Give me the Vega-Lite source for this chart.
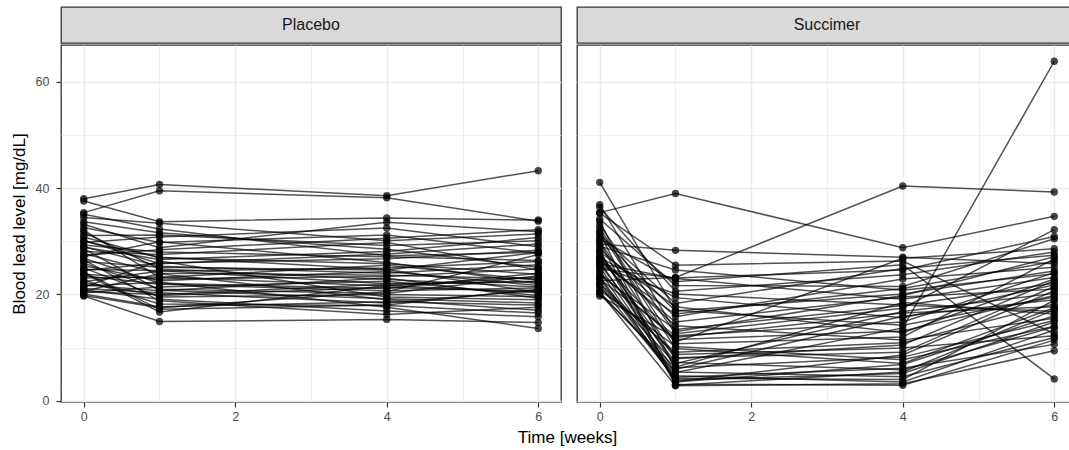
{
  "$schema": "https://vega.github.io/schema/vega-lite/v6.json",
  "padding": {"left": 9, "top": 6, "right": 0, "bottom": 0},
  "background": "white",
  "config": {
    "font": "Liberation Sans",
    "view": {"stroke": "#333333", "strokeWidth": 1.3},
    "concat": {"spacing": 14}
  },
  "title": {"text": "Time [weeks]", "orient": "bottom", "anchor": "middle", "fontSize": 17, "fontWeight": "normal", "color": "black", "offset": 6, "dx": 24, "font": "Liberation Sans"},
  "datasets": {
    "lead": [
      {"id":1,"g":"Placebo","w":0,"v":30.8},{"id":1,"g":"Placebo","w":1,"v":26.9},{"id":1,"g":"Placebo","w":4,"v":25.8},{"id":1,"g":"Placebo","w":6,"v":23.8},
      {"id":2,"g":"Placebo","w":0,"v":24.7},{"id":2,"g":"Placebo","w":1,"v":24.5},{"id":2,"g":"Placebo","w":4,"v":22.0},{"id":2,"g":"Placebo","w":6,"v":22.5},
      {"id":3,"g":"Placebo","w":0,"v":28.6},{"id":3,"g":"Placebo","w":1,"v":20.8},{"id":3,"g":"Placebo","w":4,"v":19.2},{"id":3,"g":"Placebo","w":6,"v":18.4},
      {"id":4,"g":"Placebo","w":0,"v":33.7},{"id":4,"g":"Placebo","w":1,"v":31.6},{"id":4,"g":"Placebo","w":4,"v":28.5},{"id":4,"g":"Placebo","w":6,"v":25.1},
      {"id":5,"g":"Placebo","w":0,"v":19.7},{"id":5,"g":"Placebo","w":1,"v":14.9},{"id":5,"g":"Placebo","w":4,"v":15.3},{"id":5,"g":"Placebo","w":6,"v":14.7},
      {"id":6,"g":"Placebo","w":0,"v":31.1},{"id":6,"g":"Placebo","w":1,"v":31.2},{"id":6,"g":"Placebo","w":4,"v":29.2},{"id":6,"g":"Placebo","w":6,"v":30.1},
      {"id":7,"g":"Placebo","w":0,"v":19.8},{"id":7,"g":"Placebo","w":1,"v":17.5},{"id":7,"g":"Placebo","w":4,"v":20.5},{"id":7,"g":"Placebo","w":6,"v":27.5},
      {"id":8,"g":"Placebo","w":0,"v":21.4},{"id":8,"g":"Placebo","w":1,"v":26.3},{"id":8,"g":"Placebo","w":4,"v":19.5},{"id":8,"g":"Placebo","w":6,"v":19.0},
      {"id":9,"g":"Placebo","w":0,"v":21.1},{"id":9,"g":"Placebo","w":1,"v":20.3},{"id":9,"g":"Placebo","w":4,"v":18.4},{"id":9,"g":"Placebo","w":6,"v":20.8},
      {"id":10,"g":"Placebo","w":0,"v":20.6},{"id":10,"g":"Placebo","w":1,"v":23.9},{"id":10,"g":"Placebo","w":4,"v":19.0},{"id":10,"g":"Placebo","w":6,"v":17.0},
      {"id":11,"g":"Placebo","w":0,"v":24.0},{"id":11,"g":"Placebo","w":1,"v":16.7},{"id":11,"g":"Placebo","w":4,"v":21.7},{"id":11,"g":"Placebo","w":6,"v":20.3},
      {"id":12,"g":"Placebo","w":0,"v":37.6},{"id":12,"g":"Placebo","w":1,"v":33.7},{"id":12,"g":"Placebo","w":4,"v":34.4},{"id":12,"g":"Placebo","w":6,"v":34.0},
      {"id":13,"g":"Placebo","w":0,"v":38.0},{"id":13,"g":"Placebo","w":1,"v":40.7},{"id":13,"g":"Placebo","w":4,"v":38.6},{"id":13,"g":"Placebo","w":6,"v":43.3},
      {"id":14,"g":"Placebo","w":0,"v":35.4},{"id":14,"g":"Placebo","w":1,"v":39.5},{"id":14,"g":"Placebo","w":4,"v":38.2},{"id":14,"g":"Placebo","w":6,"v":33.8},
      {"id":15,"g":"Placebo","w":0,"v":22.2},{"id":15,"g":"Placebo","w":1,"v":19.8},{"id":15,"g":"Placebo","w":4,"v":21.3},{"id":15,"g":"Placebo","w":6,"v":20.6},
      {"id":16,"g":"Placebo","w":0,"v":26.2},{"id":16,"g":"Placebo","w":1,"v":25.1},{"id":16,"g":"Placebo","w":4,"v":24.6},{"id":16,"g":"Placebo","w":6,"v":27.9},
      {"id":17,"g":"Placebo","w":0,"v":29.3},{"id":17,"g":"Placebo","w":1,"v":28.0},{"id":17,"g":"Placebo","w":4,"v":27.1},{"id":17,"g":"Placebo","w":6,"v":26.4},
      {"id":18,"g":"Placebo","w":0,"v":20.3},{"id":18,"g":"Placebo","w":1,"v":21.4},{"id":18,"g":"Placebo","w":4,"v":22.5},{"id":18,"g":"Placebo","w":6,"v":19.8},
      {"id":19,"g":"Placebo","w":0,"v":25.4},{"id":19,"g":"Placebo","w":1,"v":22.6},{"id":19,"g":"Placebo","w":4,"v":24.3},{"id":19,"g":"Placebo","w":6,"v":21.7},
      {"id":20,"g":"Placebo","w":0,"v":27.7},{"id":20,"g":"Placebo","w":1,"v":24.0},{"id":20,"g":"Placebo","w":4,"v":23.6},{"id":20,"g":"Placebo","w":6,"v":22.9},
      {"id":21,"g":"Placebo","w":0,"v":32.6},{"id":21,"g":"Placebo","w":1,"v":29.8},{"id":21,"g":"Placebo","w":4,"v":31.2},{"id":21,"g":"Placebo","w":6,"v":27.8},
      {"id":22,"g":"Placebo","w":0,"v":23.5},{"id":22,"g":"Placebo","w":1,"v":21.9},{"id":22,"g":"Placebo","w":4,"v":20.7},{"id":22,"g":"Placebo","w":6,"v":21.2},
      {"id":23,"g":"Placebo","w":0,"v":30.2},{"id":23,"g":"Placebo","w":1,"v":25.8},{"id":23,"g":"Placebo","w":4,"v":27.6},{"id":23,"g":"Placebo","w":6,"v":29.5},
      {"id":24,"g":"Placebo","w":0,"v":22.7},{"id":24,"g":"Placebo","w":1,"v":18.2},{"id":24,"g":"Placebo","w":4,"v":17.9},{"id":24,"g":"Placebo","w":6,"v":16.5},
      {"id":25,"g":"Placebo","w":0,"v":34.5},{"id":25,"g":"Placebo","w":1,"v":33.4},{"id":25,"g":"Placebo","w":4,"v":30.1},{"id":25,"g":"Placebo","w":6,"v":31.4},
      {"id":26,"g":"Placebo","w":0,"v":26.8},{"id":26,"g":"Placebo","w":1,"v":22.1},{"id":26,"g":"Placebo","w":4,"v":21.1},{"id":26,"g":"Placebo","w":6,"v":24.0},
      {"id":27,"g":"Placebo","w":0,"v":20.9},{"id":27,"g":"Placebo","w":1,"v":19.1},{"id":27,"g":"Placebo","w":4,"v":16.9},{"id":27,"g":"Placebo","w":6,"v":15.8},
      {"id":28,"g":"Placebo","w":0,"v":28.1},{"id":28,"g":"Placebo","w":1,"v":27.5},{"id":28,"g":"Placebo","w":4,"v":29.8},{"id":28,"g":"Placebo","w":6,"v":24.6},
      {"id":29,"g":"Placebo","w":0,"v":24.5},{"id":29,"g":"Placebo","w":1,"v":25.9},{"id":29,"g":"Placebo","w":4,"v":26.7},{"id":29,"g":"Placebo","w":6,"v":28.3},
      {"id":30,"g":"Placebo","w":0,"v":31.7},{"id":30,"g":"Placebo","w":1,"v":24.8},{"id":30,"g":"Placebo","w":4,"v":22.8},{"id":30,"g":"Placebo","w":6,"v":21.4},
      {"id":31,"g":"Placebo","w":0,"v":21.8},{"id":31,"g":"Placebo","w":1,"v":20.7},{"id":31,"g":"Placebo","w":4,"v":23.1},{"id":31,"g":"Placebo","w":6,"v":19.3},
      {"id":32,"g":"Placebo","w":0,"v":27.1},{"id":32,"g":"Placebo","w":1,"v":29.9},{"id":32,"g":"Placebo","w":4,"v":26.0},{"id":32,"g":"Placebo","w":6,"v":22.0},
      {"id":33,"g":"Placebo","w":0,"v":23.1},{"id":33,"g":"Placebo","w":1,"v":23.3},{"id":33,"g":"Placebo","w":4,"v":21.6},{"id":33,"g":"Placebo","w":6,"v":23.3},
      {"id":34,"g":"Placebo","w":0,"v":33.2},{"id":34,"g":"Placebo","w":1,"v":28.8},{"id":34,"g":"Placebo","w":4,"v":33.6},{"id":34,"g":"Placebo","w":6,"v":31.8},
      {"id":35,"g":"Placebo","w":0,"v":20.1},{"id":35,"g":"Placebo","w":1,"v":17.7},{"id":35,"g":"Placebo","w":4,"v":18.6},{"id":35,"g":"Placebo","w":6,"v":18.0},
      {"id":36,"g":"Placebo","w":0,"v":25.9},{"id":36,"g":"Placebo","w":1,"v":21.0},{"id":36,"g":"Placebo","w":4,"v":20.2},{"id":36,"g":"Placebo","w":6,"v":23.5},
      {"id":37,"g":"Placebo","w":0,"v":29.8},{"id":37,"g":"Placebo","w":1,"v":30.8},{"id":37,"g":"Placebo","w":4,"v":32.5},{"id":37,"g":"Placebo","w":6,"v":29.0},
      {"id":38,"g":"Placebo","w":0,"v":22.4},{"id":38,"g":"Placebo","w":1,"v":24.4},{"id":38,"g":"Placebo","w":4,"v":25.0},{"id":38,"g":"Placebo","w":6,"v":26.2},
      {"id":39,"g":"Placebo","w":0,"v":26.5},{"id":39,"g":"Placebo","w":1,"v":18.8},{"id":39,"g":"Placebo","w":4,"v":16.2},{"id":39,"g":"Placebo","w":6,"v":17.6},
      {"id":40,"g":"Placebo","w":0,"v":35.1},{"id":40,"g":"Placebo","w":1,"v":32.3},{"id":40,"g":"Placebo","w":4,"v":27.3},{"id":40,"g":"Placebo","w":6,"v":27.9},
      {"id":41,"g":"Placebo","w":0,"v":20.5},{"id":41,"g":"Placebo","w":1,"v":20.0},{"id":41,"g":"Placebo","w":4,"v":21.9},{"id":41,"g":"Placebo","w":6,"v":22.4},
      {"id":42,"g":"Placebo","w":0,"v":30.0},{"id":42,"g":"Placebo","w":1,"v":27.0},{"id":42,"g":"Placebo","w":4,"v":24.7},{"id":42,"g":"Placebo","w":6,"v":20.4},
      {"id":43,"g":"Placebo","w":0,"v":23.8},{"id":43,"g":"Placebo","w":1,"v":22.9},{"id":43,"g":"Placebo","w":4,"v":23.4},{"id":43,"g":"Placebo","w":6,"v":24.8},
      {"id":44,"g":"Placebo","w":0,"v":25.0},{"id":44,"g":"Placebo","w":1,"v":19.5},{"id":44,"g":"Placebo","w":4,"v":20.0},{"id":44,"g":"Placebo","w":6,"v":19.6},
      {"id":45,"g":"Placebo","w":0,"v":28.9},{"id":45,"g":"Placebo","w":1,"v":26.6},{"id":45,"g":"Placebo","w":4,"v":28.1},{"id":45,"g":"Placebo","w":6,"v":30.7},
      {"id":46,"g":"Placebo","w":0,"v":32.1},{"id":46,"g":"Placebo","w":1,"v":23.2},{"id":46,"g":"Placebo","w":4,"v":25.5},{"id":46,"g":"Placebo","w":6,"v":22.7},
      {"id":47,"g":"Placebo","w":0,"v":21.6},{"id":47,"g":"Placebo","w":1,"v":22.3},{"id":47,"g":"Placebo","w":4,"v":17.6},{"id":47,"g":"Placebo","w":6,"v":13.6},
      {"id":48,"g":"Placebo","w":0,"v":27.4},{"id":48,"g":"Placebo","w":1,"v":28.4},{"id":48,"g":"Placebo","w":4,"v":30.6},{"id":48,"g":"Placebo","w":6,"v":32.2},
      {"id":49,"g":"Placebo","w":0,"v":24.2},{"id":49,"g":"Placebo","w":1,"v":17.2},{"id":49,"g":"Placebo","w":4,"v":18.0},{"id":49,"g":"Placebo","w":6,"v":21.0},
      {"id":50,"g":"Placebo","w":0,"v":29.0},{"id":50,"g":"Placebo","w":1,"v":25.3},{"id":50,"g":"Placebo","w":4,"v":24.0},{"id":50,"g":"Placebo","w":6,"v":25.6},
      {"id":51,"g":"Succimer","w":0,"v":26.5},{"id":51,"g":"Succimer","w":1,"v":14.8},{"id":51,"g":"Succimer","w":4,"v":19.5},{"id":51,"g":"Succimer","w":6,"v":21.0},
      {"id":52,"g":"Succimer","w":0,"v":25.8},{"id":52,"g":"Succimer","w":1,"v":23.0},{"id":52,"g":"Succimer","w":4,"v":19.1},{"id":52,"g":"Succimer","w":6,"v":23.2},
      {"id":53,"g":"Succimer","w":0,"v":20.4},{"id":53,"g":"Succimer","w":1,"v":2.8},{"id":53,"g":"Succimer","w":4,"v":3.2},{"id":53,"g":"Succimer","w":6,"v":9.4},
      {"id":54,"g":"Succimer","w":0,"v":20.4},{"id":54,"g":"Succimer","w":1,"v":5.4},{"id":54,"g":"Succimer","w":4,"v":4.5},{"id":54,"g":"Succimer","w":6,"v":11.9},
      {"id":55,"g":"Succimer","w":0,"v":24.8},{"id":55,"g":"Succimer","w":1,"v":23.1},{"id":55,"g":"Succimer","w":4,"v":24.6},{"id":55,"g":"Succimer","w":6,"v":30.9},
      {"id":56,"g":"Succimer","w":0,"v":27.9},{"id":56,"g":"Succimer","w":1,"v":6.3},{"id":56,"g":"Succimer","w":4,"v":18.5},{"id":56,"g":"Succimer","w":6,"v":16.3},
      {"id":57,"g":"Succimer","w":0,"v":35.3},{"id":57,"g":"Succimer","w":1,"v":25.5},{"id":57,"g":"Succimer","w":4,"v":26.3},{"id":57,"g":"Succimer","w":6,"v":12.6},
      {"id":58,"g":"Succimer","w":0,"v":28.6},{"id":58,"g":"Succimer","w":1,"v":15.8},{"id":58,"g":"Succimer","w":4,"v":22.9},{"id":58,"g":"Succimer","w":6,"v":25.1},
      {"id":59,"g":"Succimer","w":0,"v":31.9},{"id":59,"g":"Succimer","w":1,"v":9.8},{"id":59,"g":"Succimer","w":4,"v":7.0},{"id":59,"g":"Succimer","w":6,"v":17.5},
      {"id":60,"g":"Succimer","w":0,"v":41.1},{"id":60,"g":"Succimer","w":1,"v":17.0},{"id":60,"g":"Succimer","w":4,"v":14.2},{"id":60,"g":"Succimer","w":6,"v":19.5},
      {"id":61,"g":"Succimer","w":0,"v":35.4},{"id":61,"g":"Succimer","w":1,"v":39.0},{"id":61,"g":"Succimer","w":4,"v":28.8},{"id":61,"g":"Succimer","w":6,"v":34.7},
      {"id":62,"g":"Succimer","w":0,"v":22.6},{"id":62,"g":"Succimer","w":1,"v":23.2},{"id":62,"g":"Succimer","w":4,"v":40.4},{"id":62,"g":"Succimer","w":6,"v":39.3},
      {"id":63,"g":"Succimer","w":0,"v":29.5},{"id":63,"g":"Succimer","w":1,"v":28.3},{"id":63,"g":"Succimer","w":4,"v":27.0},{"id":63,"g":"Succimer","w":6,"v":25.8},
      {"id":64,"g":"Succimer","w":0,"v":26.2},{"id":64,"g":"Succimer","w":1,"v":5.3},{"id":64,"g":"Succimer","w":4,"v":13.7},{"id":64,"g":"Succimer","w":6,"v":63.9},
      {"id":65,"g":"Succimer","w":0,"v":30.5},{"id":65,"g":"Succimer","w":1,"v":22.4},{"id":65,"g":"Succimer","w":4,"v":25.6},{"id":65,"g":"Succimer","w":6,"v":4.1},
      {"id":66,"g":"Succimer","w":0,"v":23.0},{"id":66,"g":"Succimer","w":1,"v":3.9},{"id":66,"g":"Succimer","w":4,"v":5.1},{"id":66,"g":"Succimer","w":6,"v":14.8},
      {"id":67,"g":"Succimer","w":0,"v":21.7},{"id":67,"g":"Succimer","w":1,"v":4.2},{"id":67,"g":"Succimer","w":4,"v":4.0},{"id":67,"g":"Succimer","w":6,"v":18.9},
      {"id":68,"g":"Succimer","w":0,"v":33.1},{"id":68,"g":"Succimer","w":1,"v":12.6},{"id":68,"g":"Succimer","w":4,"v":17.4},{"id":68,"g":"Succimer","w":6,"v":32.2},
      {"id":69,"g":"Succimer","w":0,"v":27.3},{"id":69,"g":"Succimer","w":1,"v":7.9},{"id":69,"g":"Succimer","w":4,"v":10.5},{"id":69,"g":"Succimer","w":6,"v":22.6},
      {"id":70,"g":"Succimer","w":0,"v":24.1},{"id":70,"g":"Succimer","w":1,"v":11.5},{"id":70,"g":"Succimer","w":4,"v":13.1},{"id":70,"g":"Succimer","w":6,"v":19.8},
      {"id":71,"g":"Succimer","w":0,"v":29.9},{"id":71,"g":"Succimer","w":1,"v":3.5},{"id":71,"g":"Succimer","w":4,"v":6.8},{"id":71,"g":"Succimer","w":6,"v":16.0},
      {"id":72,"g":"Succimer","w":0,"v":22.1},{"id":72,"g":"Succimer","w":1,"v":8.7},{"id":72,"g":"Succimer","w":4,"v":9.9},{"id":72,"g":"Succimer","w":6,"v":12.2},
      {"id":73,"g":"Succimer","w":0,"v":36.4},{"id":73,"g":"Succimer","w":1,"v":20.6},{"id":73,"g":"Succimer","w":4,"v":23.7},{"id":73,"g":"Succimer","w":6,"v":28.0},
      {"id":74,"g":"Succimer","w":0,"v":25.2},{"id":74,"g":"Succimer","w":1,"v":4.7},{"id":74,"g":"Succimer","w":4,"v":3.5},{"id":74,"g":"Succimer","w":6,"v":13.3},
      {"id":75,"g":"Succimer","w":0,"v":30.8},{"id":75,"g":"Succimer","w":1,"v":16.9},{"id":75,"g":"Succimer","w":4,"v":20.1},{"id":75,"g":"Succimer","w":6,"v":24.4},
      {"id":76,"g":"Succimer","w":0,"v":20.1},{"id":76,"g":"Succimer","w":1,"v":6.2},{"id":76,"g":"Succimer","w":4,"v":8.2},{"id":76,"g":"Succimer","w":6,"v":15.1},
      {"id":77,"g":"Succimer","w":0,"v":26.9},{"id":77,"g":"Succimer","w":1,"v":19.4},{"id":77,"g":"Succimer","w":4,"v":15.6},{"id":77,"g":"Succimer","w":6,"v":21.8},
      {"id":78,"g":"Succimer","w":0,"v":32.5},{"id":78,"g":"Succimer","w":1,"v":10.7},{"id":78,"g":"Succimer","w":4,"v":12.0},{"id":78,"g":"Succimer","w":6,"v":26.7},
      {"id":79,"g":"Succimer","w":0,"v":23.6},{"id":79,"g":"Succimer","w":1,"v":13.4},{"id":79,"g":"Succimer","w":4,"v":17.9},{"id":79,"g":"Succimer","w":6,"v":22.1},
      {"id":80,"g":"Succimer","w":0,"v":28.3},{"id":80,"g":"Succimer","w":1,"v":3.1},{"id":80,"g":"Succimer","w":4,"v":2.9},{"id":80,"g":"Succimer","w":6,"v":11.4},
      {"id":81,"g":"Succimer","w":0,"v":19.7},{"id":81,"g":"Succimer","w":1,"v":11.9},{"id":81,"g":"Succimer","w":4,"v":16.5},{"id":81,"g":"Succimer","w":6,"v":17.7},
      {"id":82,"g":"Succimer","w":0,"v":34.2},{"id":82,"g":"Succimer","w":1,"v":21.7},{"id":82,"g":"Succimer","w":4,"v":21.5},{"id":82,"g":"Succimer","w":6,"v":30.5},
      {"id":83,"g":"Succimer","w":0,"v":25.7},{"id":83,"g":"Succimer","w":1,"v":7.2},{"id":83,"g":"Succimer","w":4,"v":5.8},{"id":83,"g":"Succimer","w":6,"v":13.9},
      {"id":84,"g":"Succimer","w":0,"v":31.3},{"id":84,"g":"Succimer","w":1,"v":18.3},{"id":84,"g":"Succimer","w":4,"v":24.9},{"id":84,"g":"Succimer","w":6,"v":27.4},
      {"id":85,"g":"Succimer","w":0,"v":21.3},{"id":85,"g":"Succimer","w":1,"v":9.1},{"id":85,"g":"Succimer","w":4,"v":10.9},{"id":85,"g":"Succimer","w":6,"v":18.2},
      {"id":86,"g":"Succimer","w":0,"v":27.0},{"id":86,"g":"Succimer","w":1,"v":14.1},{"id":86,"g":"Succimer","w":4,"v":11.4},{"id":86,"g":"Succimer","w":6,"v":15.5},
      {"id":87,"g":"Succimer","w":0,"v":24.4},{"id":87,"g":"Succimer","w":1,"v":3.6},{"id":87,"g":"Succimer","w":4,"v":8.6},{"id":87,"g":"Succimer","w":6,"v":20.7},
      {"id":88,"g":"Succimer","w":0,"v":29.1},{"id":88,"g":"Succimer","w":1,"v":24.6},{"id":88,"g":"Succimer","w":4,"v":20.8},{"id":88,"g":"Succimer","w":6,"v":23.9},
      {"id":89,"g":"Succimer","w":0,"v":22.9},{"id":89,"g":"Succimer","w":1,"v":12.2},{"id":89,"g":"Succimer","w":4,"v":14.8},{"id":89,"g":"Succimer","w":6,"v":24.1},
      {"id":90,"g":"Succimer","w":0,"v":33.8},{"id":90,"g":"Succimer","w":1,"v":5.9},{"id":90,"g":"Succimer","w":4,"v":15.9},{"id":90,"g":"Succimer","w":6,"v":19.0},
      {"id":91,"g":"Succimer","w":0,"v":26.0},{"id":91,"g":"Succimer","w":1,"v":16.3},{"id":91,"g":"Succimer","w":4,"v":21.1},{"id":91,"g":"Succimer","w":6,"v":26.2},
      {"id":92,"g":"Succimer","w":0,"v":20.8},{"id":92,"g":"Succimer","w":1,"v":10.2},{"id":92,"g":"Succimer","w":4,"v":7.7},{"id":92,"g":"Succimer","w":6,"v":14.0},
      {"id":93,"g":"Succimer","w":0,"v":30.1},{"id":93,"g":"Succimer","w":1,"v":8.1},{"id":93,"g":"Succimer","w":4,"v":9.1},{"id":93,"g":"Succimer","w":6,"v":21.5},
      {"id":94,"g":"Succimer","w":0,"v":25.3},{"id":94,"g":"Succimer","w":1,"v":20.1},{"id":94,"g":"Succimer","w":4,"v":18.0},{"id":94,"g":"Succimer","w":6,"v":16.8},
      {"id":95,"g":"Succimer","w":0,"v":36.9},{"id":95,"g":"Succimer","w":1,"v":13.0},{"id":95,"g":"Succimer","w":4,"v":19.8},{"id":95,"g":"Succimer","w":6,"v":27.1},
      {"id":96,"g":"Succimer","w":0,"v":23.3},{"id":96,"g":"Succimer","w":1,"v":4.4},{"id":96,"g":"Succimer","w":4,"v":6.1},{"id":96,"g":"Succimer","w":6,"v":10.6},
      {"id":97,"g":"Succimer","w":0,"v":28.0},{"id":97,"g":"Succimer","w":1,"v":17.7},{"id":97,"g":"Succimer","w":4,"v":12.8},{"id":97,"g":"Succimer","w":6,"v":22.9},
      {"id":98,"g":"Succimer","w":0,"v":22.0},{"id":98,"g":"Succimer","w":1,"v":7.0},{"id":98,"g":"Succimer","w":4,"v":16.8},{"id":98,"g":"Succimer","w":6,"v":20.2},
      {"id":99,"g":"Succimer","w":0,"v":31.6},{"id":99,"g":"Succimer","w":1,"v":2.9},{"id":99,"g":"Succimer","w":4,"v":5.4},{"id":99,"g":"Succimer","w":6,"v":17.1},
      {"id":100,"g":"Succimer","w":0,"v":26.7},{"id":100,"g":"Succimer","w":1,"v":11.0},{"id":100,"g":"Succimer","w":4,"v":26.8},{"id":100,"g":"Succimer","w":6,"v":28.6}
    ],
    "strips": [{"g": "Placebo"}, {"g": "Succimer"}]
  },
  "hconcat": [
    {
      "spacing": 0,
      "vconcat": [
        {
          "width": 500, "height": 36,
          "view": {"fill": "#d9d9d9", "stroke": "#333333", "strokeWidth": 1.3},
          "data": {"name": "strips"},
          "transform": [{"filter": "datum.g === 'Placebo'"}],
          "mark": {"type": "text", "fontSize": 16, "color": "#1a1a1a", "font": "Liberation Sans", "baseline": "middle", "align": "center"},
          "encoding": {"text": {"field": "g"}}
        },
        {
          "width": 500, "height": 357,
          "data": {"name": "lead"},
          "transform": [{"filter": "datum.g === 'Placebo'"}],
          "encoding": {
            "x": {"field": "w", "type": "quantitative", "scale": {"domain": [-0.3, 6.3], "nice": false, "zero": false},
              "axis": {"title": null, "values": [0,1,2,3,4,5,6], "labelExpr": "datum.value % 2 === 0 ? datum.label : ''", "labelOverlap": false,
                "tickOpacity": {"condition": {"test": "datum.value % 2 === 0", "value": 1}, "value": 0},
                "gridWidth": {"condition": {"test": "datum.value % 2 === 0", "value": 1.5}, "value": 0.75},
                "gridColor": "#ebebeb", "domain": false, "tickColor": "#333333", "tickSize": 5, "tickWidth": 1.2, "labelPadding": 3.5, "labelFontSize": 12.5, "labelColor": "#4d4d4d", "labelFont": "Liberation Sans"}},
            "y": {"field": "v", "type": "quantitative", "scale": {"domain": [-0.25, 66.96], "nice": false, "zero": false},
              "axis": {"title": "Blood lead level [mg/dL]", "values": [0,10,20,30,40,50,60], "labelExpr": "datum.value % 20 === 0 ? datum.label : ''", "labelOverlap": false,
                "tickOpacity": {"condition": {"test": "datum.value % 20 === 0", "value": 1}, "value": 0},
                "gridWidth": {"condition": {"test": "datum.value % 20 === 0", "value": 1.5}, "value": 0.75},
                "gridColor": "#ebebeb", "domain": false, "tickColor": "#333333", "tickSize": 5, "tickWidth": 1.2, "labelPadding": 7, "labelFontSize": 12.5, "labelColor": "#4d4d4d", "labelFont": "Liberation Sans",
                "titleFontSize": 17, "titleFontWeight": "normal", "titleColor": "black", "titleFont": "Liberation Sans", "titlePadding": 7, "minExtent": 0}},
            "detail": {"field": "id"}
          },
          "layer": [
            {"mark": {"type": "line", "color": "black", "opacity": 0.68, "strokeWidth": 1.5}},
            {"mark": {"type": "circle", "color": "black", "opacity": 0.72, "size": 55}}
          ]
        }
      ]
    },
    {
      "spacing": 0,
      "vconcat": [
        {
          "width": 500, "height": 36,
          "view": {"fill": "#d9d9d9", "stroke": "#333333", "strokeWidth": 1.3},
          "data": {"name": "strips"},
          "transform": [{"filter": "datum.g === 'Succimer'"}],
          "mark": {"type": "text", "fontSize": 16, "color": "#1a1a1a", "font": "Liberation Sans", "baseline": "middle", "align": "center"},
          "encoding": {"text": {"field": "g"}}
        },
        {
          "width": 500, "height": 357,
          "data": {"name": "lead"},
          "transform": [{"filter": "datum.g === 'Succimer'"}],
          "encoding": {
            "x": {"field": "w", "type": "quantitative", "scale": {"domain": [-0.3, 6.3], "nice": false, "zero": false},
              "axis": {"title": null, "values": [0,1,2,3,4,5,6], "labelExpr": "datum.value % 2 === 0 ? datum.label : ''", "labelOverlap": false,
                "tickOpacity": {"condition": {"test": "datum.value % 2 === 0", "value": 1}, "value": 0},
                "gridWidth": {"condition": {"test": "datum.value % 2 === 0", "value": 1.5}, "value": 0.75},
                "gridColor": "#ebebeb", "domain": false, "tickColor": "#333333", "tickSize": 5, "tickWidth": 1.2, "labelPadding": 3.5, "labelFontSize": 12.5, "labelColor": "#4d4d4d", "labelFont": "Liberation Sans"}},
            "y": {"field": "v", "type": "quantitative", "scale": {"domain": [-0.25, 66.96], "nice": false, "zero": false},
              "axis": {"title": null, "values": [0,10,20,30,40,50,60], "labels": false, "ticks": false, "domain": false,
                "gridWidth": {"condition": {"test": "datum.value % 20 === 0", "value": 1.5}, "value": 0.75},
                "gridColor": "#ebebeb", "minExtent": 0, "maxExtent": 0}},
            "detail": {"field": "id"}
          },
          "layer": [
            {"mark": {"type": "line", "color": "black", "opacity": 0.68, "strokeWidth": 1.5}},
            {"mark": {"type": "circle", "color": "black", "opacity": 0.72, "size": 55}}
          ]
        }
      ]
    }
  ]
}
